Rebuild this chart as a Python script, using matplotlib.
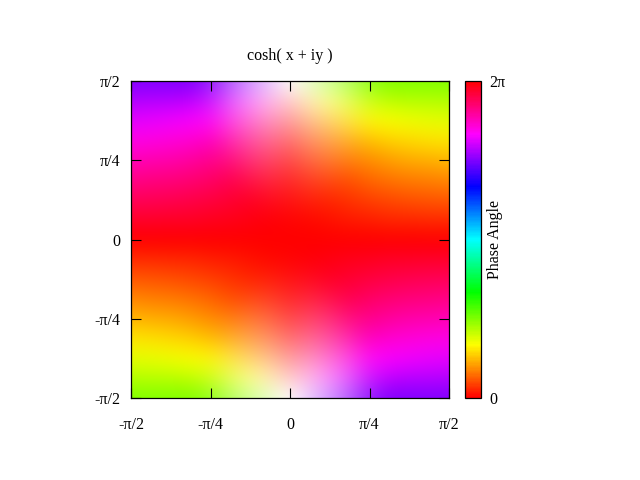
"""
cosh(x + iy) phase plot: hue = phase angle, saturation = magnitude (clipped at 1).
"""
import numpy as np
import matplotlib
matplotlib.use("Agg")
import matplotlib.pyplot as plt
from matplotlib.colors import LinearSegmentedColormap, Normalize, hsv_to_rgb
from matplotlib.cm import ScalarMappable

plt.rcParams["font.family"] = ["Liberation Serif", "DejaVu Serif"]

# ── Data ───────────────────────────────────────────────────────────────────────
# upper right quadrant, steps of pi/16: rows y = 0..pi/2, columns x = 0..pi/2
hue_deg = [
    [0,  0,  0,  0,  0,  0,  0,  0,  0],
    [0,  2,  4,  6,  7,  9,  9, 10, 10],
    [0,  5,  9, 12, 15, 17, 19, 20, 21],
    [0,  7, 14, 19, 24, 27, 29, 30, 32],
    [0, 11, 21, 28, 33, 37, 40, 41, 43],
    [0, 16, 29, 38, 45, 49, 51, 53, 54],
    [0, 25, 42, 52, 58, 61, 63, 65, 66],
    [0, 44, 62, 69, 73, 75, 77, 77, 78],
    [0, 90, 90, 90, 90, 90, 90, 90, 90],
]
sat = [
    [1.00, 1.00, 1.00, 1.00, 1.00, 1.00, 1.00, 1.00, 1.00],
    [0.98, 1.00, 1.00, 1.00, 1.00, 1.00, 1.00, 1.00, 1.00],
    [0.92, 0.95, 1.00, 1.00, 1.00, 1.00, 1.00, 1.00, 1.00],
    [0.83, 0.85, 0.92, 1.00, 1.00, 1.00, 1.00, 1.00, 1.00],
    [0.71, 0.73, 0.81, 0.94, 1.00, 1.00, 1.00, 1.00, 1.00],
    [0.56, 0.59, 0.69, 0.84, 1.00, 1.00, 1.00, 1.00, 1.00],
    [0.38, 0.43, 0.56, 0.73, 0.95, 1.00, 1.00, 1.00, 1.00],
    [0.20, 0.28, 0.45, 0.65, 0.89, 1.00, 1.00, 1.00, 1.00],
    [0.00, 0.20, 0.40, 0.62, 0.87, 1.00, 1.00, 1.00, 1.00],
]
tick_pos    = [-np.pi/2, -np.pi/4, 0, np.pi/4, np.pi/2]
tick_labels = ["-π/2", "-π/4", "0", "π/4", "π/2"]
cb_colors   = ["#ff0000", "#ffff00", "#00ff00", "#00ffff", "#0000ff", "#ff00ff", "#ff0000"]

# ── Full grid from the quadrant (picture is mirrored, phase changes sign) ──────
q_hue  = np.array(hue_deg, dtype=float)
q_sat  = np.array(sat)
h_top  = np.hstack([-q_hue[:, :0:-1], q_hue])
hue    = np.vstack([h_top[:0:-1, ::-1], h_top])
s_top  = np.hstack([q_sat[:, :0:-1], q_sat])
s_full = np.vstack([s_top[:0:-1, :], s_top])
rgb = hsv_to_rgb(np.dstack([(hue % 360)/360.0, s_full, np.ones_like(s_full)]))

# ── Figure ─────────────────────────────────────────────────────────────────────
fig = plt.figure(figsize=(6.4, 4.8), dpi=100)
W, HT = 640.0, 480.0
ax = fig.add_axes([131/W, 1 - 398/HT, 318/W, 317/HT])
d = np.pi/16
ax.imshow(rgb, origin="lower", interpolation="bicubic", aspect="auto",
          extent=[-np.pi/2 - d/2, np.pi/2 + d/2, -np.pi/2 - d/2, np.pi/2 + d/2])
ax.set_xlim(-np.pi/2, np.pi/2)
ax.set_ylim(-np.pi/2, np.pi/2)
ax.set_xticks(tick_pos, tick_labels)
ax.set_yticks(tick_pos, tick_labels)
ax.tick_params(direction="in", length=7.2, width=0.8, top=True, right=True,
               labelsize=11.5, pad=8)
ax.tick_params(axis="x", pad=13.5)
for sp in ax.spines.values():
    sp.set_linewidth(0.9)
ax.set_title("cosh( x + iy )", fontsize=11.5, pad=15)

# colorbar
cax = fig.add_axes([465/W, 1 - 398/HT, 16/W, 317/HT])
cmap = LinearSegmentedColormap.from_list("hsv_wheel", cb_colors, N=256)
cb = fig.colorbar(ScalarMappable(Normalize(0, 2*np.pi), cmap), cax=cax)
cb.set_ticks([0, 2*np.pi], labels=["0", "2π"])
cb.ax.tick_params(length=0, labelsize=11.5, pad=6)
cb.outline.set_linewidth(0.9)
cb.set_label("Phase Angle", fontsize=11.5, labelpad=-13)

fig.savefig("out.png", dpi=100)
